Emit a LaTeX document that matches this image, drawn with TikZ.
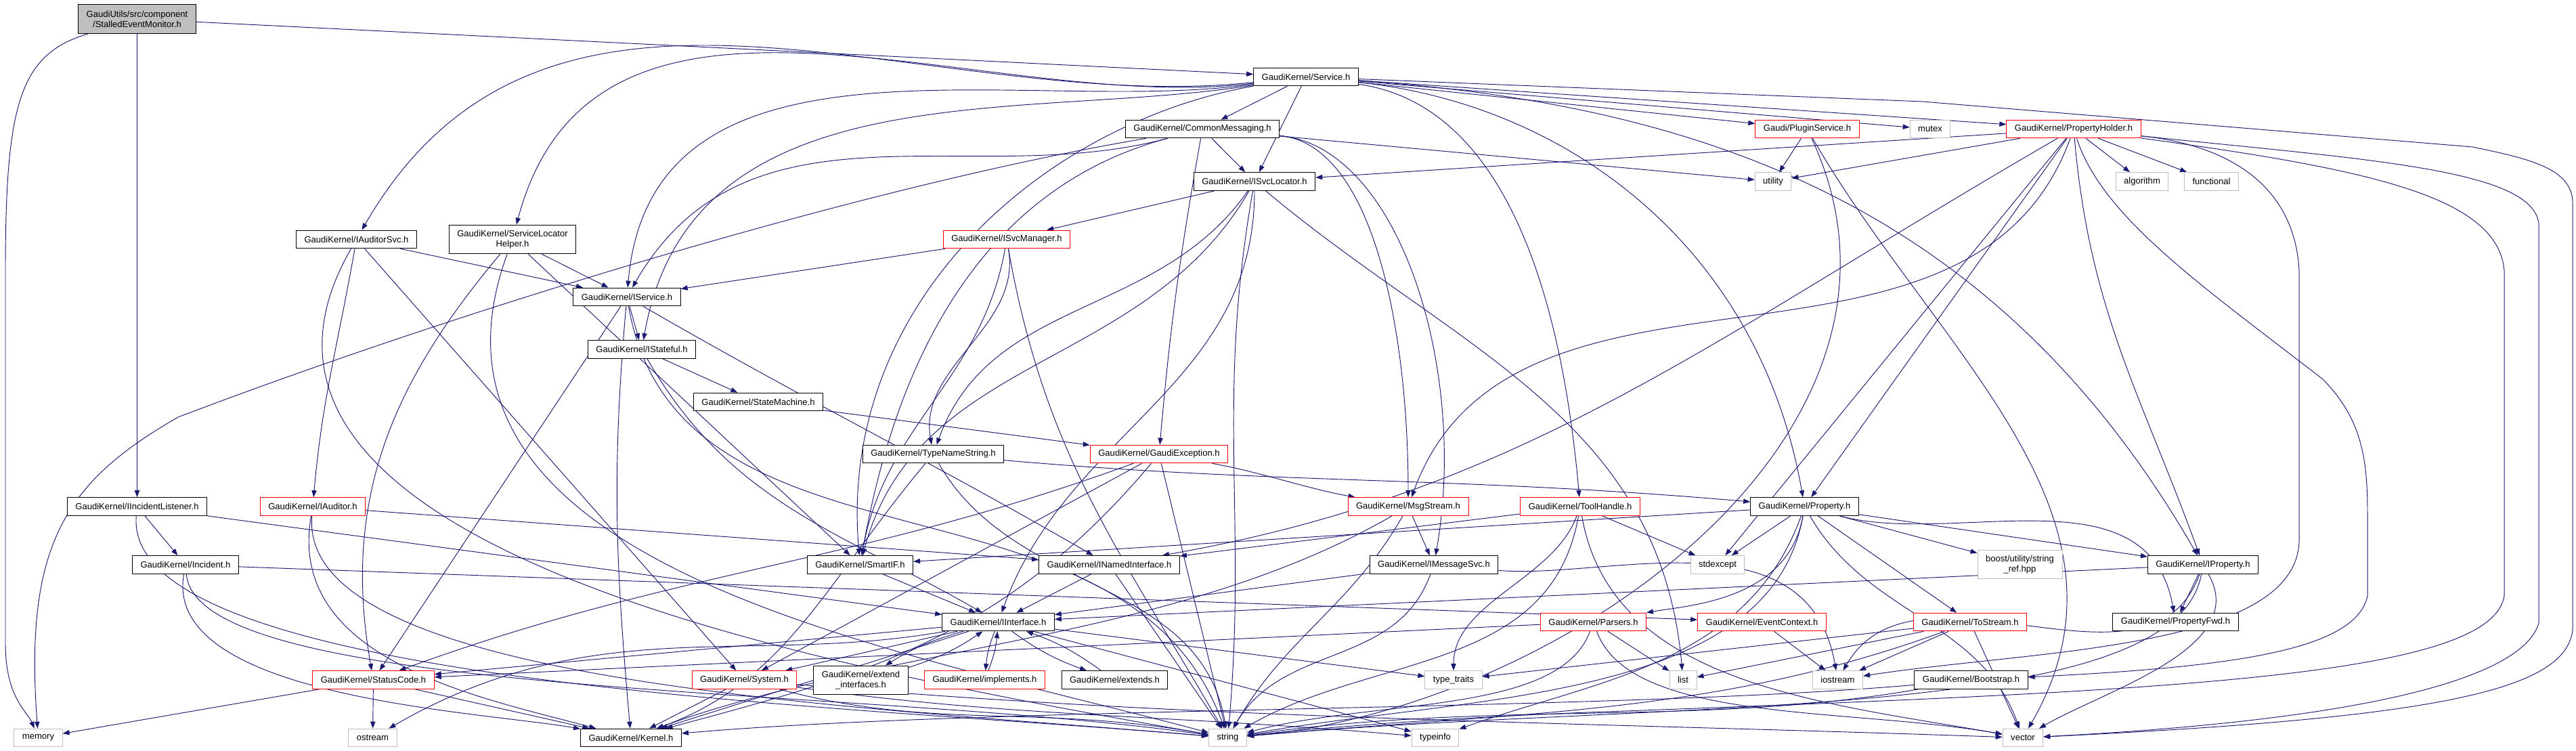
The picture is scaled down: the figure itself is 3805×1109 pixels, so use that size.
\documentclass[tikz,border=0pt]{standalone}
\usepackage{fontspec}
\setmainfont{Liberation Sans}
\usetikzlibrary{arrows.meta,positioning}
\definecolor{midblue}{HTML}{191970}
\definecolor{extgray}{HTML}{BFBFBF}
\pgfdeclarelayer{bg}
\pgfsetlayers{bg,main}

\begin{document}
\begin{tikzpicture}[
    x = 0.75pt, y = -0.75pt,
    hdr/.style = {draw = black, fill = white, line width = 0.75pt,
                  font = \fontsize{9.8}{11.5}\selectfont,
                  minimum height = 20pt, inner xsep = 9pt, inner ysep = 2pt},
    redhdr/.style = {hdr, draw = red},
    syshdr/.style = {hdr, draw = extgray},
    roothdr/.style = {hdr, fill = extgray},
    twoline/.style = {align = center, minimum height = 32pt},
    dep/.style = {draw = midblue, line width = 0.7pt,
                  -{Triangle[length = 7.5pt, width = 5.5pt]}}
  ]
  \useasboundingbox (0,0) rectangle (3805,1109);

  % top rows
  \node[roothdr, twoline] (sem) at (202.5,28) {GaudiUtils/src/component\\/StalledEventMonitor.h};
  \node[hdr] (service) at (1929,113.5) {GaudiKernel/Service.h};
  \node[hdr] (cmsg) at (1776,190.5) {GaudiKernel/CommonMessaging.h};
  \node[redhdr] (plugin) at (2669.5,190.5) {Gaudi/PluginService.h};
  \node[syshdr] (mutex) at (2851,190.5) {mutex};
  \node[redhdr] (pholder) at (3063,190.5) {GaudiKernel/PropertyHolder.h};
  \node[hdr] (isvcloc) at (1853,268) {GaudiKernel/ISvcLocator.h};
  \node[syshdr] (utility) at (2619,268) {utility};
  \node[syshdr] (algorithm) at (3164,268) {algorithm};
  \node[syshdr] (functional) at (3266.5,268) {functional};
  \node[hdr] (iaudsvc) at (526.5,353.5) {GaudiKernel/IAuditorSvc.h};
  \node[hdr, twoline] (slhelper) at (757,353.5) {GaudiKernel/ServiceLocator\\Helper.h};
  \node[redhdr] (isvcmgr) at (1487,353.5) {GaudiKernel/ISvcManager.h};
  \node[hdr] (iservice) at (926,438.5) {GaudiKernel/IService.h};
  \node[hdr] (istateful) at (948,516) {GaudiKernel/IStateful.h};
  \node[hdr] (statemachine) at (1120,593.5) {GaudiKernel/StateMachine.h};
  \node[hdr] (typename) at (1378.5,670.5) {GaudiKernel/TypeNameString.h};
  \node[redhdr] (gexc) at (1712,670.5) {GaudiKernel/GaudiException.h};

  % middle rows
  \node[hdr] (iinclist) at (202.5,748) {GaudiKernel/IIncidentListener.h};
  \node[redhdr] (iauditor) at (462,748) {GaudiKernel/IAuditor.h};
  \node[redhdr] (msgstream) at (2080,748) {GaudiKernel/MsgStream.h};
  \node[redhdr] (toolhandle) at (2334,748) {GaudiKernel/ToolHandle.h};
  \node[hdr] (property) at (2665.5,748) {GaudiKernel/Property.h};
  \node[hdr] (incident) at (274,834) {GaudiKernel/Incident.h};
  \node[hdr] (smartif) at (1270.5,834) {GaudiKernel/SmartIF.h};
  \node[hdr] (inamed) at (1638.5,834) {GaudiKernel/INamedInterface.h};
  \node[hdr] (imsgsvc) at (2118,834) {GaudiKernel/IMessageSvc.h};
  \node[syshdr] (stdexcept) at (2537,834) {stdexcept};
  \node[syshdr, twoline] (stringref) at (2983.5,833.5) {boost/utility/string\\\_ref.hpp};
  \node[hdr] (iproperty) at (3254,834) {GaudiKernel/IProperty.h};
  \node[hdr] (iinterface) at (1474.5,918.5) {GaudiKernel/IInterface.h};
  \node[redhdr] (parsers) at (2353.5,918.5) {GaudiKernel/Parsers.h};
  \node[redhdr] (evctx) at (2602.5,918.5) {GaudiKernel/EventContext.h};
  \node[redhdr] (tostream) at (2910,918.5) {GaudiKernel/ToStream.h};
  \node[hdr] (propfwd) at (3213.5,918.5) {GaudiKernel/PropertyFwd.h};

  % bottom rows
  \node[redhdr] (statuscode) at (551.5,1004) {GaudiKernel/StatusCode.h};
  \node[redhdr] (system) at (1099.5,1004) {GaudiKernel/System.h};
  \node[hdr, twoline] (extif) at (1271.5,1004.5) {GaudiKernel/extend\\\_interfaces.h};
  \node[redhdr] (implements) at (1454.5,1004) {GaudiKernel/implements.h};
  \node[hdr] (extends) at (1646.5,1004) {GaudiKernel/extends.h};
  \node[syshdr] (typetraits) at (2147,1004) {type\_traits};
  \node[syshdr] (list) at (2486,1004) {list};
  \node[syshdr] (iostream) at (2714.5,1004) {iostream};
  \node[hdr] (bootstrap) at (2911.5,1004) {GaudiKernel/Bootstrap.h};
  \node[syshdr] (memory) at (56.5,1089.5) {memory};
  \node[syshdr] (ostream) at (550.5,1089.5) {ostream};
  \node[hdr] (kernel) at (932,1089.5) {GaudiKernel/Kernel.h};
  \node[syshdr] (string) at (1813.5,1089.5) {string};
  \node[syshdr] (typeinfo) at (2120,1089.5) {typeinfo};
  \node[syshdr] (vector) at (2988,1089.5) {vector};

  \begin{pgfonlayer}{bg}
    \fill[white] (0,0) rectangle (3805,1109);

    % StalledEventMonitor.h
    \draw[dep] (sem) -- (service);
    \draw[dep] (sem) -- (iinclist);
    \draw[dep] (sem) .. controls (30,80) and (8,150) .. (8,400) -- (8,950)
                     .. controls (8,1030) and (40,1050) .. (memory);

    % Service.h
    \draw[dep] (service) -- (cmsg);
    \draw[dep] (service) -- (isvcloc);
    \draw[dep] (service) -- (plugin);
    \draw[dep] (service) -- (mutex);
    \draw[dep] (service) -- (pholder);
    \draw[dep] (service) .. controls +(186:427pt) and +(60:427pt) .. (iaudsvc);
    \draw[dep] (service) .. controls +(187:359pt) and +(75:359pt) .. (slhelper);
    \draw[dep] (service) .. controls +(188:316pt) and +(85:316pt) .. (iservice);
    \draw[dep] (service) .. controls +(189:318pt) and +(80:318pt) .. (istateful);
    \draw[dep] (service) .. controls +(190:293pt) and +(95:293pt) .. (smartif);
    \draw[dep] (service) .. controls +(-8:226pt) and +(95:226pt) .. (toolhandle);
    \draw[dep] (service) .. controls +(-6:292pt) and +(100:292pt) .. (property);
    \draw[dep] (service) .. controls +(-4:452pt) and +(120:452pt) .. (iproperty);
    \draw[dep] (service) -- (2840,150) -- (3652,217)
                         .. controls (3740,235) and (3800,250) .. (3800,300) -- (3800,930)
                         .. controls (3790,1020) and (3600,1060) .. (vector);

    % CommonMessaging.h
    \draw[dep] (cmsg) .. controls +(195:266pt) and +(60:266pt) .. (iservice);
    \draw[dep] (cmsg) -- (isvcloc);
    \draw[dep] (cmsg) .. controls +(-5:191pt) and +(90:191pt) .. (msgstream);
    \draw[dep] (cmsg) .. controls +(-5:219pt) and +(80:219pt) .. (imsgsvc);
    \draw[dep] (cmsg) .. controls +(-100:145pt) and +(85:145pt) .. (gexc);
    \draw[dep] (cmsg) .. controls +(195:245pt) and +(80:245pt) .. (smartif);
    \draw[dep] (cmsg) -- (utility);
    \draw[dep] (cmsg) .. controls (1300,270) and (700,450) .. (263,616)
                      .. controls (100,710) and (35,800) .. (memory);

    % PluginService.h
    \draw[dep] (plugin) -- (utility);
    \draw[dep] (plugin) .. controls +(-60:286pt) and +(60:286pt) .. (vector);
    \draw[dep] (plugin) .. controls +(-65:372pt) and +(5:372pt) .. (string);

    % PropertyHolder.h
    \draw[dep] (pholder) -- (utility);
    \draw[dep] (pholder) -- (algorithm);
    \draw[dep] (pholder) -- (functional);
    \draw[dep] (pholder) -- (isvcloc);
    \draw[dep] (pholder) -- (stdexcept);
    \draw[dep] (pholder) .. controls +(-110:339pt) and +(70:339pt) .. (msgstream);
    \draw[dep] (pholder) -- (property);
    \draw[dep] (pholder) .. controls +(-85:202pt) and +(110:202pt) .. (iproperty);
    \draw[dep] (pholder) .. controls +(210:469pt) and +(10:469pt) .. (inamed);
    \draw[dep] (pholder) .. controls (3105,320) and (3250,420) .. (3431,560)
                         .. controls (3490,620) and (3497,680) .. (3497,760) -- (3497,880)
                         .. controls (3480,960) and (3300,985) .. (bootstrap);
    \draw[dep] (pholder) .. controls (3300,215) and (3390,280) .. (3396,400) -- (3396,800)
                         .. controls (3390,960) and (3000,960) .. (iostream);
    \draw[dep] (pholder) .. controls (3500,250) and (3690,290) .. (3699,400) -- (3699,880)
                         .. controls (3680,1000) and (3200,1020) .. (2400,1050)
                         .. controls (2100,1060) and (1900,1080) .. (string);
    \draw[dep] (pholder) .. controls (3500,236) and (3740,250) .. (3750,330) -- (3750,920)
                         .. controls (3730,990) and (3550,1060) .. (vector);

    % ISvcLocator.h
    \draw[dep] (isvcloc) .. controls +(-90:226pt) and +(70:226pt) .. (iinterface);
    \draw[dep] (isvcloc) -- (isvcmgr);
    \draw[dep] (isvcloc) .. controls +(-120:244pt) and +(75:244pt) .. (smartif);
    \draw[dep] (isvcloc) .. controls +(-125:187pt) and +(70:187pt) .. (typename);
    \draw[dep] (isvcloc) .. controls +(-40:291pt) and +(95:291pt) .. (list);
    \draw[dep] (isvcloc) .. controls +(-100:247pt) and +(85:247pt) .. (string);

    % ISvcManager.h
    \draw[dep] (isvcmgr) -- (iservice);
    \draw[dep] (isvcmgr) .. controls +(-100:157pt) and +(80:157pt) .. (smartif);
    \draw[dep] (isvcmgr) .. controls +(-80:99pt) and +(100:99pt) .. (typename);
    \draw[dep] (isvcmgr) .. controls +(-80:242pt) and +(120:242pt) .. (string);

    % IAuditorSvc.h, ServiceLocatorHelper.h
    \draw[dep] (iaudsvc) -- (iservice);
    \draw[dep] (iaudsvc) .. controls +(-100:120pt) and +(85:120pt) .. (iauditor);
    \draw[dep] (iaudsvc) -- (system);
    \draw[dep] (iaudsvc) .. controls +(-120:400pt) and +(170:438pt) .. (string);
    \draw[dep] (slhelper) -- (iservice);
    \draw[dep] (slhelper) .. controls +(-130:205pt) and +(100:205pt) .. (statuscode);
    \draw[dep] (slhelper) -- (smartif);
    \draw[dep] (slhelper) .. controls +(-110:386pt) and +(165:386pt) .. (string);

    % IService.h, IStateful.h, StateMachine.h
    \draw[dep] (iservice) -- (istateful);
    \draw[dep] (iservice) .. controls +(-30:245pt) and +(150:245pt) .. (inamed);
    \draw[dep] (iservice) -- (statuscode);
    \draw[dep] (iservice) .. controls +(-95:195pt) and +(95:195pt) .. (kernel);
    \draw[dep] (iservice) .. controls +(-80:333pt) and +(110:333pt) .. (string);
    \draw[dep] (istateful) -- (statemachine);
    \draw[dep] (istateful) .. controls +(-60:199pt) and +(150:199pt) .. (iinterface);
    \draw[dep] (statemachine) -- (gexc);

    % TypeNameString.h, GaudiException.h
    \draw[dep] (typename) .. controls +(-5:387pt) and +(175:387pt) .. (property);
    \draw[dep] (typename) .. controls +(-130:184pt) and +(20:184pt) .. (kernel);
    \draw[dep] (typename) .. controls +(-60:181pt) and +(100:181pt) .. (string);
    \draw[dep] (gexc) .. controls +(200:362pt) and +(20:362pt) .. (statuscode);
    \draw[dep] (gexc) -- (system);
    \draw[dep] (gexc) .. controls +(-130:266pt) and +(15:266pt) .. (kernel);
    \draw[dep] (gexc) -- (string);
    \draw[dep] (gexc) .. controls +(-10:113pt) and +(170:113pt) .. (msgstream);

    % IIncidentListener.h, Incident.h, IAuditor.h
    \draw[dep] (iinclist) -- (iinterface);
    \draw[dep] (iinclist) -- (incident);
    \draw[dep] (iinclist) .. controls +(-95:200pt) and +(175:420pt) .. (string);
    \draw[dep] (incident) -- (evctx);
    \draw[dep] (incident) .. controls +(-100:150pt) and +(170:170pt) .. (kernel);
    \draw[dep] (incident) .. controls +(-85:150pt) and +(172:420pt) .. (string);
    \draw[dep] (iauditor) -- (inamed);
    \draw[dep] (iauditor) .. controls +(-100:173pt) and +(165:173pt) .. (kernel);
    \draw[dep] (iauditor) .. controls +(-95:200pt) and +(175:400pt) .. (string);

    % MsgStream.h, ToolHandle.h
    \draw[dep] (msgstream) -- (imsgsvc);
    \draw[dep] (msgstream) .. controls +(-120:130pt) and +(60:130pt) .. (string);
    \draw[dep] (msgstream) .. controls +(-150:300pt) and +(20:300pt) .. (kernel);
    \draw[dep] (toolhandle) -- (inamed);
    \draw[dep] (toolhandle) -- (stdexcept);
    \draw[dep] (toolhandle) .. controls +(-110:86pt) and +(90:86pt) .. (typetraits);
    \draw[dep] (toolhandle) .. controls +(-100:187pt) and +(30:187pt) .. (string);
    \draw[dep] (toolhandle) .. controls +(-80:200pt) and +(170:228pt) .. (vector);

    % Property.h
    \draw[dep] (property) -- (stdexcept);
    \draw[dep] (property) .. controls +(-100:106pt) and +(10:106pt) .. (parsers);
    \draw[dep] (property) -- (tostream);
    \draw[dep] (property) -- (iproperty);
    \draw[dep] (property) .. controls +(-15:173pt) and +(100:173pt) .. (propfwd);
    \draw[dep] (property) -- (stringref);
    \draw[dep] (property) -- (smartif);
    \draw[dep] (property) .. controls +(-100:220pt) and +(10:275pt) .. (string);
    \draw[dep] (property) .. controls +(-110:188pt) and +(20:188pt) .. (typeinfo);
    \draw[dep] (property) .. controls +(-60:139pt) and +(110:139pt) .. (vector);

    % IMessageSvc.h, SmartIF.h, INamedInterface.h
    \draw[dep] (imsgsvc) -- (iinterface);
    \draw[dep] (imsgsvc) .. controls +(-5:190pt) and +(100:190pt) .. (iostream);
    \draw[dep] (imsgsvc) .. controls +(-110:122pt) and +(60:122pt) .. (string);
    \draw[dep] (smartif) -- (iinterface);
    \draw[dep] (inamed) -- (iinterface);
    \draw[dep] (inamed) -- (string);

    % IInterface.h and its helpers
    \draw[dep] (iinterface) -- (system);
    \draw[dep] (iinterface) -- (statuscode);
    \draw[dep] (iinterface) -- (kernel);
    \draw[dep] (iinterface) to[bend right=8] (extif);
    \draw[dep] (iinterface) to[bend right=8] (implements);
    \draw[dep] (iinterface) to[bend right=8] (extends);
    \draw[dep] (iinterface) -- (typetraits);
    \draw[dep] (iinterface) -- (typeinfo);
    \draw[dep] (iinterface) .. controls +(190:282pt) and +(30:282pt) .. (ostream);
    \draw[dep] (extif) to[bend right=8] (iinterface);
    \draw[dep] (implements) to[bend right=8] (iinterface);
    \draw[dep] (extends) to[bend right=8] (iinterface);

    % System.h, StatusCode.h
    \draw[dep] (system) -- (kernel);
    \draw[dep] (system) .. controls +(-15:216pt) and +(170:216pt) .. (string);
    \draw[dep] (system) .. controls +(-8:300pt) and +(175:300pt) .. (typeinfo);
    \draw[dep] (system) .. controls +(-5:500pt) and +(178:500pt) .. (vector);
    \draw[dep] (statuscode) -- (memory);
    \draw[dep] (statuscode) -- (ostream);
    \draw[dep] (statuscode) -- (kernel);

    % Parsers.h, EventContext.h, ToStream.h, Bootstrap.h
    \draw[dep] (parsers) -- (statuscode);
    \draw[dep] (parsers) -- (list);
    \draw[dep] (parsers) .. controls +(-110:110pt) and +(15:167pt) .. (string);
    \draw[dep] (parsers) .. controls +(-70:120pt) and +(170:197pt) .. (vector);
    \draw[dep] (evctx) -- (iostream);
    \draw[dep] (tostream) -- (typetraits);
    \draw[dep] (tostream) -- (list);
    \draw[dep] (tostream) -- (iostream);
    \draw[dep] (tostream) .. controls +(-160:300pt) and +(5:333pt) .. (string);
    \draw[dep] (tostream) -- (vector);
    \draw[dep] (bootstrap) .. controls +(-175:400pt) and +(5:400pt) .. (kernel);
    \draw[dep] (bootstrap) .. controls +(-170:300pt) and +(8:300pt) .. (string);

    % IProperty.h
    \draw[dep] (iproperty) -- (iinterface);
    \draw[dep] (iproperty) -- (propfwd);
    \draw[dep] (iproperty) .. controls +(-100:180pt) and +(5:500pt) .. (string);
    \draw[dep] (iproperty) .. controls +(-60:106pt) and +(30:106pt) .. (vector);
    \draw[dep] (iproperty) .. controls +(-110:173pt) and +(60:173pt) .. (iostream);
  \end{pgfonlayer}
\end{tikzpicture}
\end{document}
